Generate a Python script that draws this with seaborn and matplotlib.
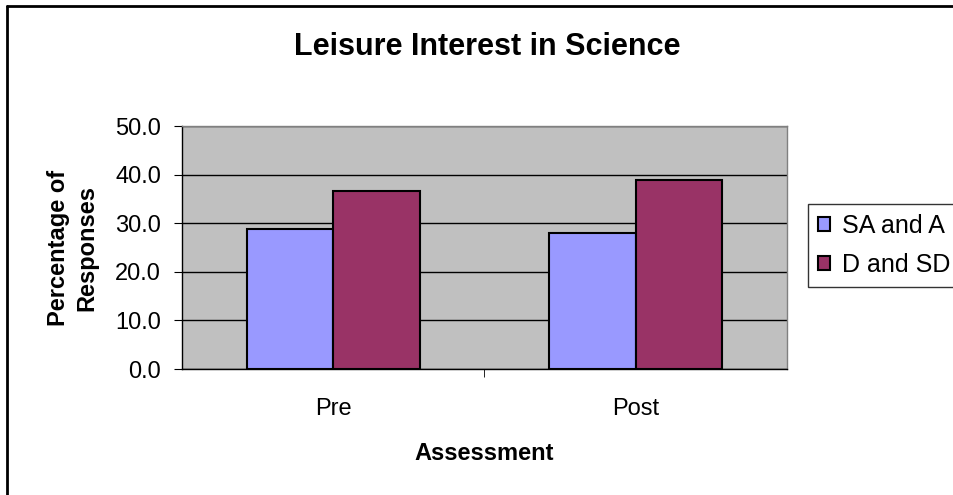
import matplotlib
matplotlib.use("Agg")
import matplotlib.pyplot as plt
import seaborn as sns
import pandas as pd
from matplotlib.lines import Line2D

categories = ["Pre", "Post"]
series_names = ["SA and A", "D and SD"]
sa_and_a = [28.9, 28.0]
d_and_sd = [36.7, 38.8]
y_ticks = [0, 10, 20, 30, 40, 50]
colors = ["#9999FF", "#993366"]

df = pd.DataFrame({
    "Assessment": categories * 2,
    "Series": [series_names[0]] * 2 + [series_names[1]] * 2,
    "Value": sa_and_a + d_and_sd,
})

sns.set_style("white")
plt.rcParams["font.family"] = ["Liberation Sans", "DejaVu Sans"]
plt.rcParams["text.color"] = "black"
plt.rcParams["axes.labelcolor"] = "black"
plt.rcParams["xtick.color"] = "black"
plt.rcParams["ytick.color"] = "black"

fig = plt.figure(figsize=(9.54, 4.95), dpi=100)
ax = fig.add_axes([182 / 954, 1 - 369 / 495, (787 - 182) / 954, (369 - 126) / 495])
ax.set_facecolor("#C0C0C0")
ax.set_axisbelow(True)
ax.yaxis.grid(True, color="black", linewidth=1)

sns.barplot(data=df, x="Assessment", y="Value", hue="Series", palette=colors,
            width=0.571, edgecolor="black", linewidth=1.5, ax=ax, saturation=1)

ax.set_ylim(0, 50)
ax.set_yticks(y_ticks)
ax.set_yticklabels([f"{v:.1f}" for v in y_ticks], fontsize=17)
ax.set_xlim(-0.5, 1.5)
ax.set_xticks([0, 1])
ax.set_xticklabels(categories, fontsize=17)
ax.tick_params(axis="x", length=0, pad=21)
ax.tick_params(axis="y", length=6, direction="out", left=True, pad=9)
ax.set_xticks([0.5], minor=True)
ax.tick_params(axis="x", which="minor", length=6, direction="out", bottom=True)
for s in ["left", "bottom"]:
    ax.spines[s].set_color("black")
    ax.spines[s].set_linewidth(1)
for s in ["top", "right"]:
    ax.spines[s].set_color("#808080")
    ax.spines[s].set_linewidth(1)

ax.set_xlabel("Assessment", fontsize=17, fontweight="bold", labelpad=16)
ax.set_ylabel("Percentage of\nResponses", fontsize=17, fontweight="bold", labelpad=12,
              linespacing=1.3)
fig.text(487 / 954, 1 - 47 / 495, "Leisure Interest in Science", fontsize=22,
         fontweight="bold", ha="center", va="center")

handles, labels = ax.get_legend_handles_labels()
ax.legend(handles, labels, loc="upper left", bbox_to_anchor=(808 / 954, 1 - 204 / 495),
          bbox_transform=fig.transFigure, frameon=True, fancybox=False, fontsize=18,
          edgecolor="black", handlelength=0.5, handleheight=0.5, handletextpad=0.45,
          borderpad=0.4, labelspacing=0.6, borderaxespad=0)

fig.add_artist(Line2D([7 / 954, 7 / 954], [0, 1 - 6 / 495], transform=fig.transFigure,
                      color="black", linewidth=2))
fig.add_artist(Line2D([7 / 954, 1], [1 - 6 / 495, 1 - 6 / 495], transform=fig.transFigure,
                      color="black", linewidth=2))

fig.savefig("out.png", dpi=100)
